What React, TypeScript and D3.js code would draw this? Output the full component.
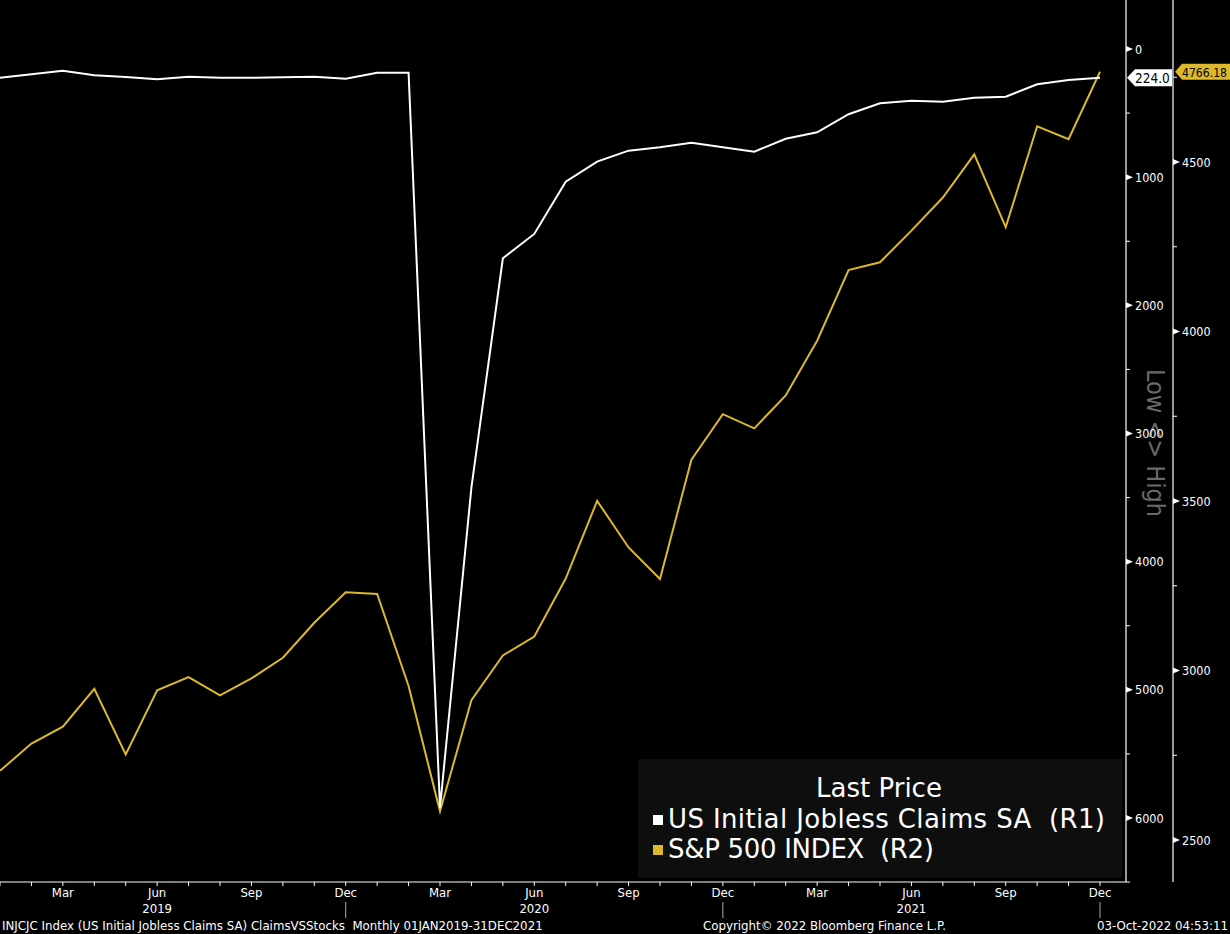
import React from "react";
import * as d3 from "d3";

const months: string[] = [
  "2019-01","2019-02","2019-03","2019-04","2019-05","2019-06","2019-07","2019-08","2019-09","2019-10","2019-11","2019-12",
  "2020-01","2020-02","2020-03","2020-04","2020-05","2020-06","2020-07","2020-08","2020-09","2020-10","2020-11","2020-12",
  "2021-01","2021-02","2021-03","2021-04","2021-05","2021-06","2021-07","2021-08","2021-09","2021-10","2021-11","2021-12",
];

// US Initial Jobless Claims SA (thousands), R1 (inverted)
const claims: number[] = [
  224,197,169,205,218,236,216,224,224,221,216,232,
  185,185,5920,3420,1633,1443,1035,879,793,767,731,766,
  801,700,650,509,424,403,411,380,372,275,242,224,
];

// S&P 500 INDEX, R2
const spx: number[] = [
  2704.10,2784.49,2834.40,2945.83,2752.06,2941.76,2980.38,2926.46,2976.74,3037.56,3140.98,3230.78,
  3225.52,2954.22,2584.59,2912.43,3044.31,3100.29,3271.12,3500.31,3363.00,3269.96,3621.63,3756.07,
  3714.24,3811.15,3972.89,4181.17,4204.11,4297.50,4395.26,4522.68,4307.54,4605.38,4567.00,4766.18,
];

const r1Ticks: number[] = [0, 1000, 2000, 3000, 4000, 5000, 6000];
const r1Minor: number[] = [500, 1500, 2500, 3500, 4500, 5500, 6500];
const r2Ticks: number[] = [2500, 3000, 3500, 4000, 4500];
const r2Minor: number[] = [2750, 3250, 3750, 4250, 4750];

const xLabelIdx: number[] = [2, 5, 8, 11, 14, 17, 20, 23, 26, 29, 32, 35];
const monthNames: string[] = ["Jan","Feb","Mar","Apr","May","Jun","Jul","Aug","Sep","Oct","Nov","Dec"];
const yearLabels: { idx: number; text: string }[] = [
  { idx: 5, text: "2019" },
  { idx: 17, text: "2020" },
  { idx: 29, text: "2021" },
];
const yearSeps: number[] = [11, 23, 35];

const legendTitle = "Last Price";
const seriesNames: string[] = ["US Initial Jobless Claims SA  (R1)", "S&P 500 INDEX  (R2)"];
const footerLeft = "INJCJC Index (US Initial Jobless Claims SA) ClaimsVSStocks  Monthly 01JAN2019-31DEC2021";
const footerMid = "Copyright\u00A9 2022 Bloomberg Finance L.P.";
const footerRight = "03-Oct-2022 04:53:11";

const W = 1230;
const H = 934;
const GOLD = "#dcb92a";
const FONT = "'DejaVu Sans Condensed', 'DejaVu Sans', sans-serif";
const WIDE = "'DejaVu Sans', sans-serif";

export default function App() {
  const x = d3.scaleLinear().domain([0, months.length - 1]).range([0, 1100]);
  const yC = d3.scaleLinear().domain([0, 6000]).range([49, 818]);
  const yS = d3.scaleLinear().domain([2500, 4500]).range([840, 162]);

  const lineC = d3.line<number>().x((_, i) => x(i)).y((d) => yC(d));
  const lineS = d3.line<number>().x((_, i) => x(i)).y((d) => yS(d));

  const axisBottom = 882;
  const r1x = 1126;
  const r2x = 1173;

  const lastC = claims[claims.length - 1];
  const lastS = spx[spx.length - 1];
  const lcY = yC(lastC);
  const lsY = yS(lastS);

  return (
    <svg
      width={W}
      height={H}
      style={{ position: "fixed", left: 0, top: 0, background: "#000" }}
      fontFamily={FONT}
    >
      <rect x={0} y={0} width={W} height={H} fill="#000" />

      {/* legend box */}
      <rect x={638} y={759} width={484} height={119} fill="#0e0e0e" />
      <text x={879} y={797} fill="#fff" fontSize={26} fontFamily={WIDE} textAnchor="middle">{legendTitle}</text>
      <rect x={653} y={815} width={10} height={10} fill="#fff" />
      <text x={668} y={828} fill="#fff" fontSize={26} fontFamily={WIDE} textLength={437} lengthAdjust="spacing" style={{ whiteSpace: "pre" }}>{seriesNames[0]}</text>
      <rect x={653} y={845} width={10} height={10} fill={GOLD} />
      <text x={668} y={858} fill="#fff" fontSize={26} fontFamily={WIDE} textLength={266} lengthAdjust="spacing" style={{ whiteSpace: "pre" }}>{seriesNames[1]}</text>

      {/* Low <> High */}
      <text
        transform={`translate(1147,443) rotate(90)`}
        fill="#6a6a6a"
        fontSize={25}
        textAnchor="middle"
        style={{ whiteSpace: "pre" }}
      >
        {"Low <> High"}
      </text>

      {/* series */}
      <path d={lineS(spx) || ""} fill="none" stroke={GOLD} strokeWidth={2} strokeLinejoin="miter" />
      <path d={lineC(claims) || ""} fill="none" stroke="#fff" strokeWidth={2} strokeLinejoin="miter" />

      {/* x axis */}
      <line x1={0} x2={r1x} y1={axisBottom} y2={axisBottom} stroke="#fff" strokeWidth={1.2} />
      {months.map((m, i) => (
        <line key={m} x1={x(i)} x2={x(i)} y1={axisBottom} y2={axisBottom + 4} stroke="#fff" strokeWidth={1} />
      ))}
      {xLabelIdx.map((i) => (
        <text key={"xl" + i} x={x(i)} y={897} fill="#fff" fontSize={13} textAnchor="middle">
          {monthNames[parseInt(months[i].slice(5), 10) - 1]}
        </text>
      ))}
      {yearLabels.map((yl) => (
        <text key={yl.text} x={x(yl.idx)} y={913} fill="#fff" fontSize={13} textAnchor="middle">
          {yl.text}
        </text>
      ))}
      {yearSeps.map((i) => (
        <line key={"ys" + i} x1={x(i)} x2={x(i)} y1={902} y2={918} stroke="#aaa" strokeWidth={1} />
      ))}

      {/* R1 axis */}
      <line x1={r1x} x2={r1x} y1={0} y2={axisBottom} stroke="#fff" strokeWidth={1.2} />
      {r1Minor.map((v) => (
        <line key={"r1m" + v} x1={r1x} x2={r1x + 4} y1={yC(v)} y2={yC(v)} stroke="#fff" strokeWidth={1} />
      ))}
      {r1Ticks.map((v) => (
        <g key={"r1" + v}>
          <path d={`M${r1x},${yC(v) - 3}L${r1x + 7},${yC(v)}L${r1x},${yC(v) + 3}Z`} fill="#fff" />
          <text x={r1x + 9} y={yC(v) + 4.5} fill="#fff" fontSize={12.5}>{v}</text>
        </g>
      ))}

      {/* R2 axis */}
      <line x1={r2x} x2={r2x} y1={0} y2={axisBottom} stroke="#fff" strokeWidth={1.2} />
      {r2Minor.map((v) => (
        <line key={"r2m" + v} x1={r2x} x2={r2x + 4} y1={yS(v)} y2={yS(v)} stroke="#fff" strokeWidth={1} />
      ))}
      {r2Ticks.map((v) => (
        <g key={"r2" + v}>
          <path d={`M${r2x},${yS(v) - 3}L${r2x + 7},${yS(v)}L${r2x},${yS(v) + 3}Z`} fill="#fff" />
          <text x={r2x + 9} y={yS(v) + 4.5} fill="#fff" fontSize={12.5}>{v}</text>
        </g>
      ))}

      {/* last value tags */}
      <path
        d={`M${r1x + 1},${lcY}L${r1x + 9},${lcY - 8.5}L${r2x - 1},${lcY - 8.5}L${r2x - 1},${lcY + 8.5}L${r1x + 9},${lcY + 8.5}Z`}
        fill="#fff"
      />
      <text x={r1x + 9} y={lcY + 5} fill="#000" fontSize={13.5}>{lastC.toFixed(1)}</text>
      <path
        d={`M${r2x + 2},${lsY}L${r2x + 9},${lsY - 8}L${W},${lsY - 8}L${W},${lsY + 8}L${r2x + 9},${lsY + 8}Z`}
        fill={GOLD}
      />
      <text x={r2x + 9} y={lsY + 5} fill="#000" fontSize={13} textLength={45} lengthAdjust="spacingAndGlyphs">{lastS.toFixed(2)}</text>

      {/* footer */}
      <text x={2} y={930} fill="#fff" fontSize={11.8} fontFamily={WIDE} style={{ whiteSpace: "pre" }}>{footerLeft}</text>
      <text x={703} y={930} fill="#fff" fontSize={11.8} fontFamily={WIDE}>{footerMid}</text>
      <text x={1228} y={930} fill="#fff" fontSize={11.8} fontFamily={WIDE} textAnchor="end">{footerRight}</text>
    </svg>
  );
}
